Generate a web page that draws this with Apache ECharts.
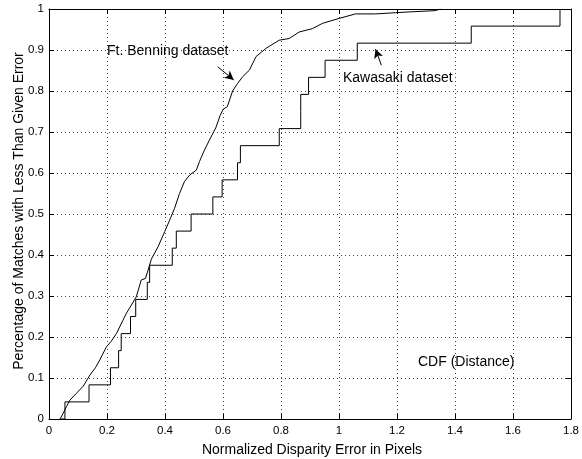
<!DOCTYPE html>
<html>
<head>
<meta charset="utf-8">
<script src="https://cdn.jsdelivr.net/npm/echarts@6/dist/echarts.min.js"></script>
<style>html,body{margin:0;padding:0;background:#fff}#c{width:582px;height:459px}</style>
</head>
<body>
<div id="c"></div>
<script>
// X tick labels and Y tick labels
var xTicks = [0, 0.2, 0.4, 0.6, 0.8, 1, 1.2, 1.4, 1.6, 1.8];
var yTicks = [0, 0.1, 0.2, 0.3, 0.4, 0.5, 0.6, 0.7, 0.8, 0.9, 1];

// Ft. Benning dataset CDF (x = error, y = fraction)
var benningX = [0.038,0.049,0.060,0.072,0.095,0.118,0.141,0.160,0.175,0.198,0.215,0.233,0.255,0.267,0.290,0.301,0.318,0.333,0.353,0.376,0.399,0.416,0.433,0.450,0.467,0.485,0.508,0.519,0.536,0.553,0.575,0.590,0.600,0.615,0.633,0.651,0.668,0.691,0.714,0.748,0.794,0.828,0.863,0.908,0.943,1.000,1.057,1.126,1.195,1.246,1.332,1.350];
var benningY = [0,0.014,0.030,0.046,0.063,0.080,0.107,0.125,0.144,0.176,0.190,0.209,0.241,0.258,0.285,0.298,0.339,0.343,0.390,0.420,0.457,0.485,0.514,0.550,0.579,0.595,0.607,0.628,0.656,0.680,0.710,0.740,0.755,0.762,0.800,0.819,0.835,0.851,0.884,0.904,0.924,0.928,0.944,0.952,0.965,0.977,0.988,0.988,0.991,0.993,0.996,1.000];

// Kawasaki dataset CDF: error value where each step occurs, and level after the step
var kawasakiX = [0.040,0.055,0.138,0.212,0.240,0.249,0.281,0.299,0.339,0.347,0.425,0.439,0.490,0.565,0.597,0.650,0.660,0.794,0.868,0.868,0.895,0.952,1.063,1.456,1.762];
var kawasakiY = [0,0.0417,0.0833,0.125,0.1667,0.2083,0.25,0.2917,0.3333,0.375,0.4167,0.4583,0.5,0.5417,0.5833,0.625,0.6667,0.7083,0.75,0.7917,0.8333,0.875,0.9167,0.9583,1.0];

// Annotation arrows [from, to] in data units
var benningArrow = [[0.582, 0.859], [0.637, 0.827]];
var kawasakiArrow = [[1.146, 0.863], [1.126, 0.902]];

var labels = {
  benning: 'Ft. Benning dataset',
  kawasaki: 'Kawasaki dataset',
  cdf: 'CDF (Distance)',
  xName: 'Normalized Disparity Error in Pixels',
  yName: 'Percentage of Matches with Less Than Given Error'
};

function zip(a, b) { return a.map(function (v, i) { return [v, b[i]]; }); }

var FONT = 'Liberation Sans, Arial, Helvetica, sans-serif';
var chart = echarts.init(document.getElementById('c'), null, {renderer: 'canvas'});

var gridLine = {show: true, lineStyle: {color: '#444', width: 1, type: [1, 3]}};
var baseAxis = function (pos, showLabel, isX) {
  return {
    type: 'value', position: pos, min: 0, max: isX ? 1.8 : 1, interval: isX ? 0.2 : 0.1,
    axisLine: {show: true, onZero: false, lineStyle: {color: '#000', width: 1}},
    axisTick: {show: true, inside: true, length: 5, lineStyle: {color: '#000'}},
    axisLabel: {show: showLabel, color: '#000', fontFamily: FONT, fontSize: 11.5, margin: isX ? 6 : 5,
      formatter: function (v) { return String(Math.round(v * 10) / 10); }},
    splitLine: showLabel ? gridLine : {show: false}
  };
};

var option = {
  animation: false,
  backgroundColor: '#fff',
  grid: {left: 49, right: 9, top: 9, bottom: 40, containLabel: false},
  xAxis: [baseAxis('bottom', true, true), baseAxis('top', false, true)],
  yAxis: [baseAxis('left', true, false), baseAxis('right', false, false)],
  series: [
    {
      type: 'line', name: 'benning', data: zip(benningX, benningY), showSymbol: false, symbol: 'none',
      lineStyle: {color: '#000', width: 1}, silent: true,
      markLine: {
        silent: true, symbol: ['none', 'arrow'], symbolSize: [7, 9],
        label: {show: false},
        lineStyle: {color: '#000', width: 1, type: 'solid'},
        data: [
          [{coord: benningArrow[0]}, {coord: benningArrow[1]}],
          [{coord: kawasakiArrow[0]}, {coord: kawasakiArrow[1]}]
        ]
      }
    },
    {
      type: 'line', name: 'kawasaki', data: zip(kawasakiX, kawasakiY), step: 'end', showSymbol: false, symbol: 'none',
      lineStyle: {color: '#000', width: 1}, silent: true
    }
  ],
  graphic: [
    {type: 'text', x: 107, y: 51, style: {text: labels.benning, fill: '#000', font: '14px ' + FONT, align: 'left', verticalAlign: 'middle'}},
    {type: 'text', x: 343, y: 78, style: {text: labels.kawasaki, fill: '#000', font: '14px ' + FONT, align: 'left', verticalAlign: 'middle'}},
    {type: 'text', x: 418, y: 362, style: {text: labels.cdf, fill: '#000', font: '14px ' + FONT, align: 'left', verticalAlign: 'middle'}},
    {type: 'text', x: 312, y: 450, style: {text: labels.xName, fill: '#000', font: '14px ' + FONT, align: 'center', verticalAlign: 'middle'}},
    {type: 'text', x: 19, y: 211, rotation: Math.PI / 2, style: {text: labels.yName, fill: '#000', font: '14px ' + FONT, align: 'center', verticalAlign: 'middle'}}
  ]
};
chart.setOption(option);
</script>
</body>
</html>
